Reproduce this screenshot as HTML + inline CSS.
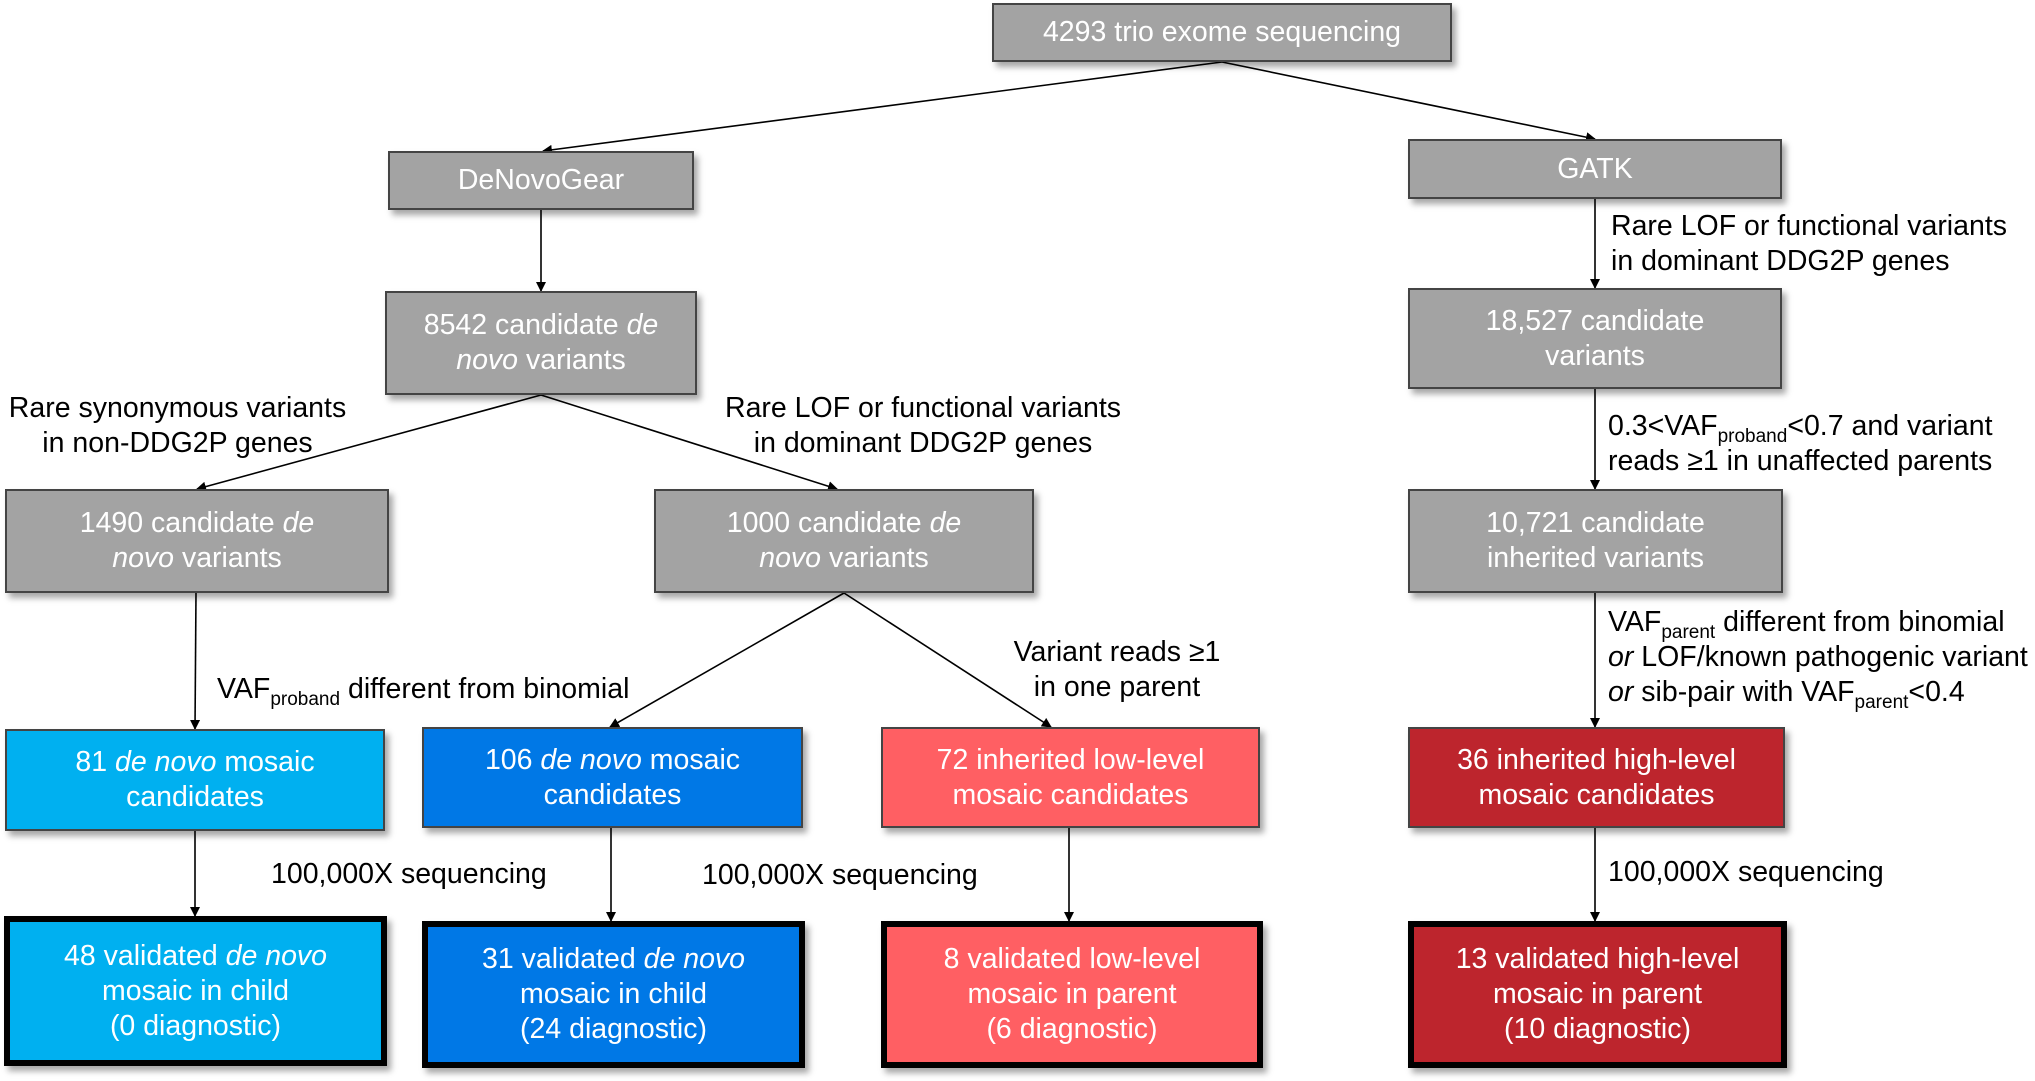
<!DOCTYPE html>
<html><head><meta charset="utf-8"><style>
body{margin:0;width:2035px;height:1081px;background:#fff;position:relative;overflow:hidden;font-family:"Liberation Sans",Arial,sans-serif;}
.b{position:absolute;box-sizing:border-box;border:2px solid #444;color:#fff;display:flex;align-items:center;justify-content:center;text-align:center;font-size:28.5px;line-height:35px;box-shadow:4px 5px 6px rgba(0,0,0,0.35);}
.b>div{display:block;}
.g{background:#a3a3a3;}
.lb{background:#00b0f0;}
.db{background:#0078e6;}
.sa{background:#ff5f63;}
.dr{background:#bd252d;}
.t{border:6px solid #000;}
.l{position:absolute;font-size:28.5px;line-height:35px;color:#000;white-space:nowrap;}
sub{font-size:19px;vertical-align:-7px;line-height:0;}
svg{position:absolute;left:0;top:0;}
</style></head><body>
<svg width="2035" height="1081">
<defs><marker id="a" markerWidth="10" markerHeight="10" refX="9" refY="5" orient="auto" markerUnits="userSpaceOnUse"><path d="M0,0 L10,5 L0,10z" fill="#000"/></marker></defs>
<g stroke="#000" stroke-width="1.6" fill="none" marker-end="url(#a)">
<line x1="1222" y1="62" x2="543" y2="151"/>
<line x1="1222" y1="62" x2="1595" y2="139"/>
<line x1="541" y1="210" x2="541" y2="291"/>
<line x1="541" y1="395" x2="197" y2="489"/>
<line x1="541" y1="395" x2="837" y2="489"/>
<line x1="196" y1="593" x2="195" y2="729"/>
<line x1="844" y1="593" x2="610" y2="727"/>
<line x1="844" y1="593" x2="1051" y2="727"/>
<line x1="195" y1="831" x2="195" y2="916"/>
<line x1="611" y1="828" x2="611" y2="921"/>
<line x1="1069" y1="828" x2="1069" y2="921"/>
<line x1="1595" y1="199" x2="1595" y2="288"/>
<line x1="1595" y1="389" x2="1595" y2="489"/>
<line x1="1595" y1="593" x2="1595" y2="727"/>
<line x1="1595" y1="828" x2="1595" y2="921"/>
</g></svg>

<div class="b g" style="left:992px;top:3px;width:460px;height:59px"><div>4293 trio exome sequencing</div></div>
<div class="b g" style="left:388px;top:151px;width:306px;height:59px"><div>DeNovoGear</div></div>
<div class="b g" style="left:1408px;top:139px;width:374px;height:60px"><div>GATK</div></div>
<div class="b g" style="left:385px;top:291px;width:312px;height:104px"><div>8542 candidate <i>de</i><br><i>novo</i> variants</div></div>
<div class="b g" style="left:1408px;top:288px;width:374px;height:101px"><div>18,527 candidate<br>variants</div></div>
<div class="b g" style="left:5px;top:489px;width:384px;height:104px"><div>1490 candidate <i>de</i><br><i>novo</i> variants</div></div>
<div class="b g" style="left:654px;top:489px;width:380px;height:104px"><div>1000 candidate <i>de</i><br><i>novo</i> variants</div></div>
<div class="b g" style="left:1408px;top:489px;width:375px;height:104px"><div>10,721 candidate<br>inherited variants</div></div>

<div class="b lb" style="left:5px;top:729px;width:380px;height:102px"><div>81 <i>de novo</i> mosaic<br>candidates</div></div>
<div class="b db" style="left:422px;top:727px;width:381px;height:101px"><div>106 <i>de novo</i> mosaic<br>candidates</div></div>
<div class="b sa" style="left:881px;top:727px;width:379px;height:101px"><div>72 inherited low-level<br>mosaic candidates</div></div>
<div class="b dr" style="left:1408px;top:727px;width:377px;height:101px"><div>36 inherited high-level<br>mosaic candidates</div></div>

<div class="b lb t" style="left:4px;top:916px;width:383px;height:150px"><div>48 validated <i>de novo</i><br>mosaic in child<br>(0 diagnostic)</div></div>
<div class="b db t" style="left:422px;top:921px;width:383px;height:147px"><div>31 validated <i>de novo</i><br>mosaic in child<br>(24 diagnostic)</div></div>
<div class="b sa t" style="left:881px;top:921px;width:382px;height:147px"><div>8 validated low-level<br>mosaic in parent<br>(6 diagnostic)</div></div>
<div class="b dr t" style="left:1408px;top:921px;width:379px;height:147px"><div>13 validated high-level<br>mosaic in parent<br>(10 diagnostic)</div></div>

<div class="l" style="left:0px;top:391px;text-align:center;width:355px">Rare synonymous variants<br>in non-DDG2P genes</div>
<div class="l" style="left:713px;top:391px;text-align:center;width:420px">Rare LOF or functional variants<br>in dominant DDG2P genes</div>
<div class="l" style="left:1611px;top:209px">Rare LOF or functional variants<br>in dominant DDG2P genes</div>
<div class="l" style="left:1608px;top:409px">0.3&lt;VAF<sub>proband</sub>&lt;0.7 and variant<br>reads ≥1 in unaffected parents</div>
<div class="l" style="left:1608px;top:605px">VAF<sub>parent</sub> different from binomial<br><i>or</i> LOF/known pathogenic variant<br><i>or</i> sib-pair with VAF<sub>parent</sub>&lt;0.4</div>
<div class="l" style="left:217px;top:672px">VAF<sub>proband</sub> different from binomial</div>
<div class="l" style="left:1000px;top:635px;text-align:center;width:234px">Variant reads ≥1<br>in one parent</div>
<div class="l" style="left:271px;top:857px">100,000X sequencing</div>
<div class="l" style="left:702px;top:858px">100,000X sequencing</div>
<div class="l" style="left:1608px;top:855px">100,000X sequencing</div>
</body></html>
